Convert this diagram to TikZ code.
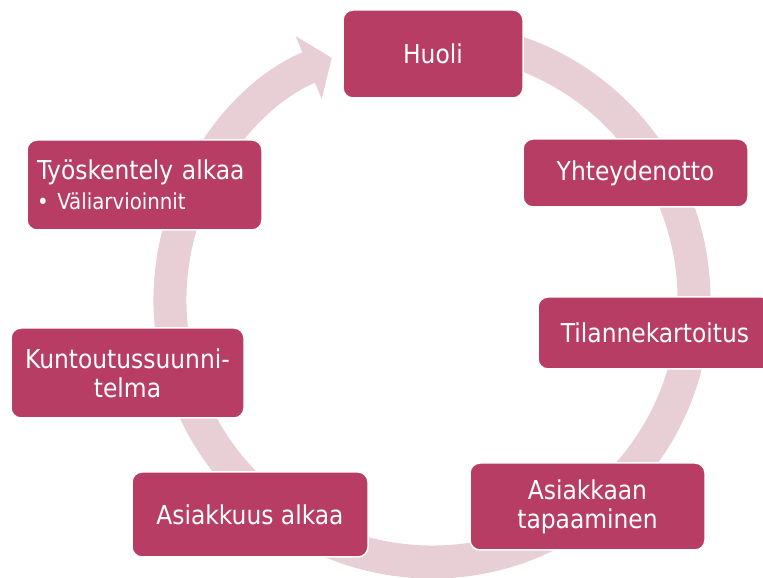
\documentclass[tikz,border=0pt]{standalone}
\usepackage{fontspec}
\setmainfont{DejaVu Sans Condensed}
\usetikzlibrary{arrows.meta}

\definecolor{boxcol}{RGB}{184,61,101}
\definecolor{ringcol}{RGB}{232,206,213}

\tikzset{
  phase/.style={rectangle, rounded corners=10pt, draw=white, line width=1.5pt,
    fill=boxcol, text=white, align=center, font=\fontsize{26}{29}\selectfont},
  ring/.style={line width=33pt, draw=ringcol, -{Triangle[width=67pt, length=25pt]}}
}

\begin{document}
\begin{tikzpicture}[x=1pt, y=1pt]
\useasboundingbox (0,0) rectangle (763,578);

% the cycle behind the boxes
\coordinate (mid) at (432,278);
\draw [ring] (mid) ++(80:262) arc[start angle=80, end angle=-247.5, radius=262];

\node (huoli) [phase, minimum width=180pt, minimum height=88pt] at (433,524) {Huoli};
\node (yhteys) [phase, minimum width=225pt, minimum height=68pt] at (635.5,405) {Yhteydenotto};
\node (kartoitus) [phase, minimum width=234pt, minimum height=72pt] at (655,245) {Tilannekartoitus};
\node (tapaaminen) [phase, minimum width=235pt, minimum height=87pt] at (587.5,71.5) {Asiakkaan\\tapaaminen};
\node (asiakkuus) [phase, minimum width=236pt, minimum height=85pt] at (250,63.5) {Asiakkuus alkaa};
\node (suunnitelma) [phase, minimum width=233pt, minimum height=90pt] at (127.5,205) {Kuntoutussuunni-\\telma};
\node (tyo) [phase, align=left, text width=215pt, inner xsep=10pt, minimum height=90pt] at (144.5,393)
  {Työskentely alkaa\\[1pt]{\fontsize{22}{26}\selectfont\textbullet\ Väliarvioinnit}};
\end{tikzpicture}
\end{document}
